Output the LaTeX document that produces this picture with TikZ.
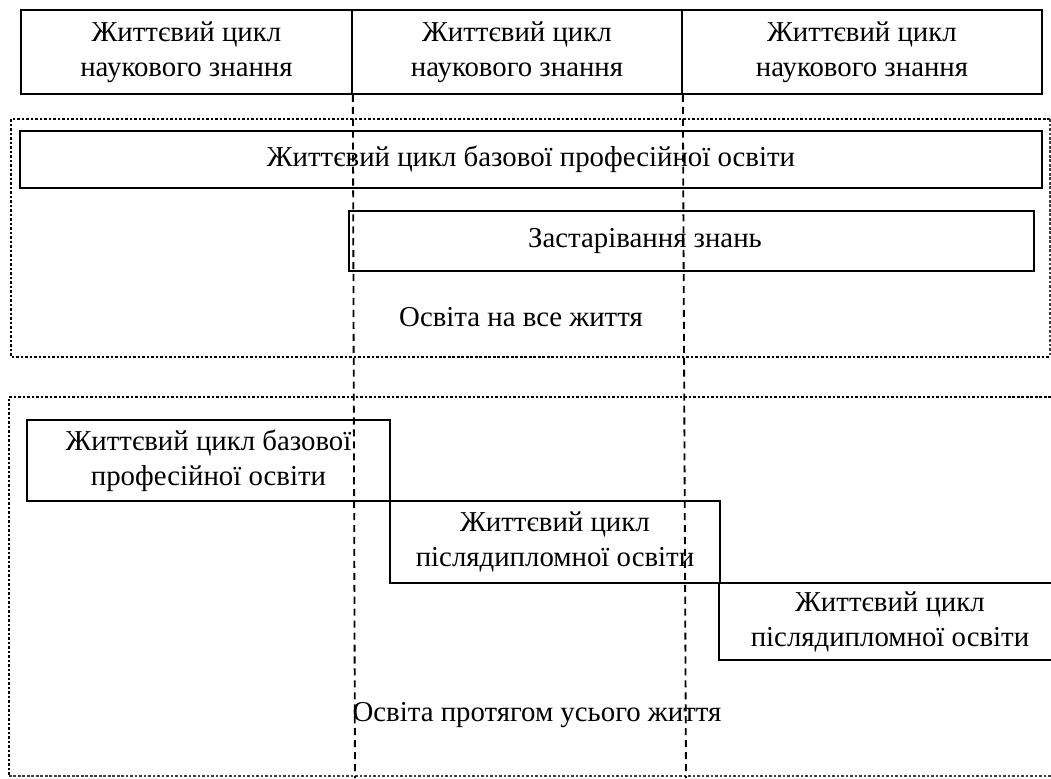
\documentclass[tikz,border=0pt]{standalone}
\usepackage{fontspec}
\setmainfont{Liberation Serif}
\usepackage{tikz}
\usetikzlibrary{shapes,arrows,positioning}
\tikzstyle{lifeblock}=[rectangle, draw, align=center, line width=1.2pt, inner sep=0pt]
\tikzstyle{zoneframe}=[line width=2pt, dash pattern=on 1.8pt off 1.4pt]
\tikzstyle{thinframe}=[line width=0.8pt, dash pattern=on 1.8pt off 1.4pt, black!75]
\tikzstyle{epochline}=[line width=1.3pt, dash pattern=on 5pt off 3.5pt]

\begin{document}
\begin{tikzpicture}[every node/.style = {font=\fontsize{20.5}{25}\selectfont}]

\clip (0,0) rectangle (26.275,-19.45);

% life cycles of scientific knowledge
\node[lifeblock, minimum width=8.275cm, minimum height=2.1cm] (sci1) at (4.6625,-1.3) {Життєвий цикл\\наукового знання};
\node[lifeblock, minimum width=8.25cm, minimum height=2.1cm] (sci2) at (12.925,-1.3) {Життєвий цикл\\наукового знання};
\node[lifeblock, minimum width=9cm, minimum height=2.1cm] (sci3) at (21.55,-1.3) {Життєвий цикл\\наукового знання};

% education for life
\draw[zoneframe] (26.25,-2.975) -- (0.275,-2.975) -- (0.275,-8.925) -- (26.25,-8.925);
\draw[thinframe] (26.25,-2.975) -- (26.25,-8.925);
\node[lifeblock, minimum width=25.55cm, minimum height=1.425cm] (base1) at (13.275,-3.9875) {Життєвий цикл базової професійної освіти};
\node[lifeblock, minimum width=17.125cm, minimum height=1.5cm] (old) at (17.2875,-6.025) {};
\node (oldtxt) at (16.125,-6.025) {Застарівання знань};
\node (forlife) at (13.025,-7.925) {Освіта на все життя};

% lifelong education
\draw[zoneframe] (26.5,-9.925) -- (0.225,-9.925) -- (0.225,-19.4);
\draw[thinframe] (0.225,-19.4) -- (26.5,-19.4);
\node[lifeblock, minimum width=9.075cm, minimum height=2.025cm] (base2) at (5.2125,-11.5125) {Життєвий цикл базової\\професійної освіти};
\node[lifeblock, minimum width=8.25cm, minimum height=2.05cm] (post1) at (13.875,-13.55) {Життєвий цикл\\післядипломної освіти};
\node[lifeblock, minimum width=8.55cm, minimum height=1.925cm] (post2) at (22.25,-15.5375) {Життєвий цикл\\післядипломної освіти};
\node (lifelong) at (13.425,-17.875) {Освіта протягом усього життя};

% epoch borders
\coordinate (end1) at (8.875,-19.45);
\coordinate (end2) at (17.15,-19.45);
\draw[epochline] (sci1.south east) -- (end1);
\draw[epochline] (sci2.south east) -- (end2);

\end{tikzpicture}
\end{document}
